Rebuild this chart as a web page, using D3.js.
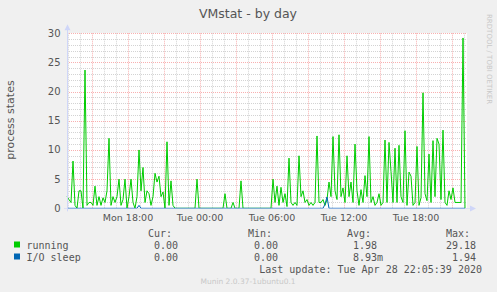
<!DOCTYPE html>
<html>
<head>
<meta charset="utf-8">
<script src="https://cdn.jsdelivr.net/npm/d3@7"></script>
<style>
  html, body { margin: 0; padding: 0; background: #F0F0F0; }
  svg { display: block; }
  text { fill: #555; }
</style>
</head>
<body>
<div id="chart"></div>
<script>
// samples every 10 minutes, starting Mon Apr 27 12:55
const startTime = new Date(2020, 3, 27, 12, 55);
const stepMinutes = 10;

const running = [
  2, 1.5, 1, 8.1, 0.5, 0, 3, 3, 0, 23.7,
  0.5, 1, 1, 0.5, 3.8, 0.5, 2, 0.5, 1.8, 1,
  3, 12, 0.5, 2, 1, 2, 5, 0.5, 1.5, 5,
  0, 2, 5, 1, 0, 2, 10, 3, 7, 1,
  3, 2.5, 0.5, 2, 6, 4.5, 5.5, 2, 2.8, 0,
  11.4, 0.5, 4.7, 0.5, 0, 0, 0, 0, 0, 0,
  0, 0, 0, 0, 0, 5, 0, 0, 0, 0,
  0, 0, 0, 0, 0, 0, 0, 0, 0, 2.5,
  0, 0, 0, 1, 0, 0, 0, 4.7, 0, 0,
  0, 0, 0, 0, 0, 0, 0, 0, 0, 0,
  0, 0, 0, 5, 1, 3.8, 0.5, 3.6, 1, 2.5,
  0.3, 8.6, 1, 0.5, 1, 0.5, 9, 2, 3, 1,
  1.5, 0.5, 1, 0.5, 1, 12.4, 1, 1, 1.5, 0.5,
  1.5, 4.5, 2, 12.3, 3, 1.5, 12.6, 2, 3.5, 1,
  9, 2, 4.5, 1, 11, 3, 0.5, 3.2, 1, 5.6,
  2, 12.3, 1, 2, 0.5, 1, 2.5, 0.5, 1, 11.7,
  1, 11.3, 6.3, 1, 10.3, 1, 10.8, 2, 1, 13.3,
  0.5, 6.2, 5.5, 0.5, 1, 10.6, 0.5, 1.8, 19.8, 2.5,
  1.3, 9.3, 1, 11.6, 2, 12, 11, 1.5, 13.4, 1,
  0.5, 3, 1.5, 3.5, 1, 1, 1, 1, 29.2, 0
];

const ioSleep = [
  0, 0, 0, 0, 0, 0, 0, 0, 0, 0,
  0, 0, 0, 0, 0, 0, 0, 0, 0, 0,
  0, 0, 0, 0, 0, 0, 0, 0, 0, 0,
  0, 0, 0, 0, 0, 0, 0.5, 0, 0, 0,
  0, 0, 0, 0, 0, 0, 0, 0, 0, 0,
  0, 0, 0, 0, 0, 0, 0, 0, 0, 0,
  0, 0, 0, 0, 0, 0, 0, 0, 0, 0,
  0, 0, 0, 0, 0, 0, 0, 0, 0, 0,
  0, 0, 0, 0, 0, 0, 0, 0, 0, 0,
  0, 0, 0, 0, 0, 0, 0, 0, 0, 0,
  0, 0, 0, 0, 0, 0, 0, 0, 0, 0,
  0, 0, 0, 0, 0, 0, 0, 0, 0, 0,
  0, 0, 0, 0, 0, 0, 0, 0, 0, 0.7,
  1.94, 0, 0, 0, 0, 0, 0, 0, 0, 0,
  0, 0, 0, 0, 0, 0, 0, 0, 0, 0,
  0, 0, 0, 0, 0, 0, 0, 0, 0, 0,
  0, 0, 0, 0, 0, 0, 0, 0, 0, 0,
  0, 0, 0, 0, 0, 0, 0, 0, 0, 0,
  0, 0, 0, 0, 0, 0, 0, 0, 0, 0,
  0, 0, 0, 0, 0, 0, 0, 0, 0, 0
];

const seriesNames = ["running", "I/O sleep"];
const seriesColors = ["#00CC00", "#0066B3"];
const legendCur = [0, 0];
const legendMin = [0, 0];
const legendAvg = [1.98, 0.00893];
const legendMax = [29.18, 1.94];
const yTicks = [0, 5, 10, 15, 20, 25, 30];

const W = 497, H = 292;
const margin = {top: 33.3, left: 67, width: 400, height: 175};

const svg = d3.select("#chart").append("svg")
  .attr("width", W).attr("height", H)
  .style("font-family", "'DejaVu Sans', sans-serif");

svg.append("rect").attr("width", W).attr("height", H).attr("fill", "#F0F0F0");

const endTime = d3.timeMinute.offset(startTime, running.length * stepMinutes);
const x = d3.scaleTime().domain([startTime, endTime])
  .range([margin.left, margin.left + margin.width]);
const y = d3.scaleLinear().domain([0, 30])
  .range([margin.top + margin.height, margin.top]);

const crisp = v => Math.round(v) + 0.5;
const plotTop = margin.top, plotBottom = margin.top + margin.height;
const plotLeft = margin.left, plotRight = margin.left + margin.width;

// canvas
svg.append("rect")
  .attr("x", plotLeft).attr("y", crisp(plotTop) - 0.5)
  .attr("width", margin.width).attr("height", plotBottom - plotTop)
  .attr("fill", "#fff");

// grid (minor every hour / every 1, major every 3 h / every 5)
const grid = svg.append("g");
const minorColor = "rgba(150,150,150,0.42)";
const majorColor = "rgba(240,80,80,0.45)";

d3.range(1, 31).filter(v => v % 5 !== 0).forEach(v => {
  grid.append("line")
    .attr("x1", plotLeft).attr("x2", plotRight)
    .attr("y1", crisp(y(v))).attr("y2", crisp(y(v)))
    .attr("stroke", minorColor).attr("stroke-dasharray", "1,1");
});
x.ticks(d3.timeHour.every(1)).filter(t => t.getHours() % 3 !== 0).forEach(t => {
  grid.append("line")
    .attr("x1", crisp(x(t))).attr("x2", crisp(x(t)))
    .attr("y1", plotTop).attr("y2", plotBottom)
    .attr("stroke", minorColor).attr("stroke-dasharray", "1,1");
});
yTicks.filter(v => v > 0).forEach(v => {
  grid.append("line")
    .attr("x1", plotLeft).attr("x2", plotRight)
    .attr("y1", crisp(y(v))).attr("y2", crisp(y(v)))
    .attr("stroke", majorColor).attr("stroke-dasharray", "1,1");
});
x.ticks(d3.timeHour.every(3)).forEach(t => {
  grid.append("line")
    .attr("x1", crisp(x(t))).attr("x2", crisp(x(t)))
    .attr("y1", plotTop).attr("y2", plotBottom)
    .attr("stroke", majorColor).attr("stroke-dasharray", "1,1");
});

// y labels
yTicks.forEach(v => {
  svg.append("text")
    .attr("x", 60.5).attr("y", y(v) + 3.5)
    .attr("text-anchor", "end")
    .attr("font-size", "10px")
    .text(v);
});

// x labels
const fmt = d3.timeFormat("%a %H:%M");
x.ticks(d3.timeHour.every(6)).forEach(t => {
  svg.append("text")
    .attr("x", x(t)).attr("y", 221)
    .attr("text-anchor", "middle")
    .attr("font-size", "9.5px")
    .text(fmt(t));
});

// series
const line = d3.line()
  .x((d, i) => x(d3.timeMinute.offset(startTime, i * stepMinutes)))
  .y(d => y(d));

[running, ioSleep].forEach((s, k) => {
  svg.append("path")
    .datum(s)
    .attr("d", line)
    .attr("fill", "none")
    .attr("stroke", seriesColors[k])
    .attr("stroke-width", 1);
});

// axes with arrows
const axisColor = "#CFD6F8";
svg.append("line")
  .attr("x1", plotLeft + 0.5).attr("x2", plotLeft + 0.5)
  .attr("y1", plotBottom + 3).attr("y2", plotTop - 4)
  .attr("stroke", axisColor);
svg.append("path")
  .attr("d", `M${plotLeft - 2.5},${plotTop - 3} L${plotLeft + 3.5},${plotTop - 3} L${plotLeft + 0.5},${plotTop - 9} Z`)
  .attr("fill", axisColor);
svg.append("line")
  .attr("x1", plotLeft - 3).attr("x2", plotRight + 4)
  .attr("y1", crisp(plotBottom)).attr("y2", crisp(plotBottom))
  .attr("stroke", axisColor).attr("stroke-opacity", 0.6);
svg.append("path")
  .attr("d", `M${plotRight + 3},${crisp(plotBottom) - 3} L${plotRight + 3},${crisp(plotBottom) + 3} L${plotRight + 9},${crisp(plotBottom)} Z`)
  .attr("fill", axisColor);

// title & labels
svg.append("text")
  .attr("x", 248).attr("y", 17.5)
  .attr("text-anchor", "middle")
  .attr("font-size", "12.5px")
  .text("VMstat - by day");

svg.append("text")
  .attr("transform", "translate(14,120) rotate(-90)")
  .attr("text-anchor", "middle")
  .attr("font-size", "11px")
  .text("process states");

svg.append("text")
  .attr("transform", "translate(487,14) rotate(90)")
  .attr("font-size", "7px")
  .style("fill", "#c8c8c8")
  .text("RRDTOOL / TOBI OETIKER");

// legend
const mono = "'DejaVu Sans Mono', monospace";
const legend = svg.append("g").style("font-family", mono).attr("font-size", "10px");
const colEnds = [172, 272, 371, 470];
["Cur:", "Min:", "Avg:", "Max:"].forEach((h, i) => {
  legend.append("text").attr("x", colEnds[i]).attr("y", 237)
    .attr("text-anchor", "end").text(h);
});

function fmtVal(v) {
  if (v !== 0 && Math.abs(v) < 1) return {num: (v * 1000).toFixed(2), suf: "m"};
  return {num: v.toFixed(2), suf: ""};
}

const rowY = [248.5, 260.5];
seriesNames.forEach((name, k) => {
  legend.append("rect")
    .attr("x", 14).attr("y", rowY[k] - 7)
    .attr("width", 6).attr("height", 6)
    .attr("fill", seriesColors[k]);
  legend.append("text").attr("x", 26.5).attr("y", rowY[k]).text(name);
  [legendCur[k], legendMin[k], legendAvg[k], legendMax[k]].forEach((v, i) => {
    const f = fmtVal(v);
    legend.append("text")
      .attr("x", colEnds[i] + 6 + (f.suf ? 6 : 0)).attr("y", rowY[k])
      .attr("text-anchor", "end")
      .text(f.num + f.suf);
  });
});

legend.append("text")
  .attr("x", 482).attr("y", 272.5)
  .attr("text-anchor", "end")
  .text("Last update: Tue Apr 28 22:05:39 2020");

svg.append("text")
  .attr("x", 248).attr("y", 284)
  .attr("text-anchor", "middle")
  .attr("font-size", "7.5px")
  .style("fill", "#c8c8c8")
  .text("Munin 2.0.37-1ubuntu0.1");
</script>
</body>
</html>
